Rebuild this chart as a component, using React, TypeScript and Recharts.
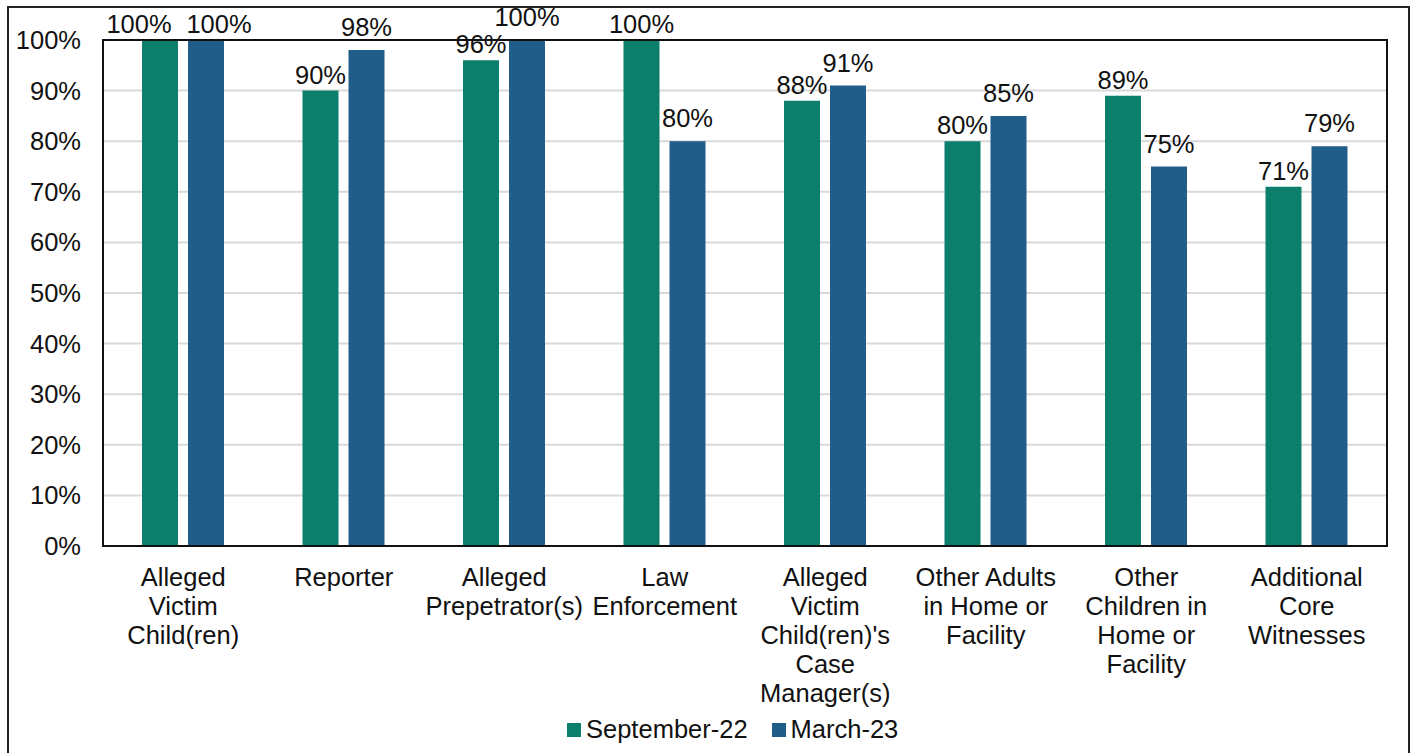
import React from 'react';
import { BarChart, Bar, XAxis, YAxis, CartesianGrid, Legend, LabelList } from 'recharts';

const categories = [
  'Alleged\nVictim\nChild(ren)',
  'Reporter',
  'Alleged\nPrepetrator(s)',
  'Law\nEnforcement',
  "Alleged\nVictim\nChild(ren)'s\nCase\nManager(s)",
  'Other Adults\nin Home or\nFacility',
  'Other\nChildren in\nHome or\nFacility',
  'Additional\nCore\nWitnesses',
];
const september22 = [100, 90, 96, 100, 88, 80, 89, 71];
const march23 = [100, 98, 100, 80, 91, 85, 75, 79];
const yTicks = [0, 10, 20, 30, 40, 50, 60, 70, 80, 90, 100];

const GREEN = '#0B7F6B';
const BLUE = '#215D89';
const FONT = '"Liberation Sans", Arial, sans-serif';
const FS = 25.5;

const data = categories.map((name, i) => ({
  name,
  sep: september22[i],
  mar: march23[i],
}));

const pct = (v: any) => `${v}%`;

// value labels; when both bars of a group are equal the labels are pushed apart sideways
const makeLabel = (series: 'sep' | 'mar') => (props: any) => {
  const { x, y, width, value, index } = props;
  const tie = september22[index] === march23[index];
  const dx = tie ? (series === 'sep' ? -21 : 13) : 0;
  const lift = series === 'mar' && !tie ? 14 : 7;
  return (
    <text x={x + width / 2 + dx} y={y - lift} textAnchor="middle" fill="#111" fontSize={FS} fontFamily={FONT}>
      {pct(value)}
    </text>
  );
};

const CategoryTick = (props: any) => {
  const { x, y, payload } = props;
  const lines = String(payload.value).split('\n');
  return (
    <text x={x} y={y} textAnchor="middle" fill="#111" fontSize={FS} fontFamily={FONT}>
      {lines.map((line, i) => (
        <tspan key={i} x={x} y={y + 38 + i * 29}>
          {line}
        </tspan>
      ))}
    </text>
  );
};

const LegendContent = () => (
  <div style={{ display: 'flex', alignItems: 'center', marginLeft: 567, fontFamily: FONT, fontSize: FS, color: '#111' }}>
    <span style={{ width: 14, height: 14, background: GREEN, display: 'inline-block', marginRight: 5 }} />
    <span style={{ marginRight: 24 }}>September-22</span>
    <span style={{ width: 14, height: 14, background: BLUE, display: 'inline-block', marginRight: 5 }} />
    <span>March-23</span>
  </div>
);

export default function App() {
  return (
    <div style={{ position: 'absolute', left: 0, top: 0, width: 1414, height: 753, overflow: 'hidden', background: '#fff' }}>
      {/* outer frame, bottom edge runs off the picture */}
      <div style={{ position: 'absolute', left: 7, top: 6, width: 1403, height: 800, border: '2px solid #222', boxSizing: 'border-box' }} />
      <BarChart
        width={1414}
        height={753}
        data={data}
        margin={{ top: 40, right: 27, bottom: 47, left: 23 }}
        barGap={10}
        barSize={36}
        style={{ position: 'absolute', left: 0, top: 0 }}
      >
        <CartesianGrid vertical={false} stroke="#d9d9d9" strokeWidth={2} />
        <XAxis dataKey="name" interval={0} height={160} tickLine={false} axisLine={false} tickSize={0} tick={<CategoryTick />} />
        <YAxis
          width={80}
          domain={[0, 100]}
          ticks={yTicks}
          tickFormatter={pct}
          tickLine={false}
          axisLine={false}
          tickSize={0}
          tickMargin={22}
          tick={{ fill: '#111', fontSize: FS, fontFamily: FONT }}
        />
        <Legend verticalAlign="middle" align="center" content={<LegendContent />} wrapperStyle={{ top: 715, left: 0, width: 1414 }} />
        <Bar dataKey="sep" name="September-22" fill={GREEN} isAnimationActive={false}>
          <LabelList dataKey="sep" content={makeLabel('sep')} />
        </Bar>
        <Bar dataKey="mar" name="March-23" fill={BLUE} isAnimationActive={false}>
          <LabelList dataKey="mar" content={makeLabel('mar')} />
        </Bar>
      </BarChart>
      {/* plot area box */}
      <div style={{ position: 'absolute', left: 102, top: 39, width: 1286, height: 508, border: '2px solid #111', boxSizing: 'border-box', pointerEvents: 'none' }} />
    </div>
  );
}
